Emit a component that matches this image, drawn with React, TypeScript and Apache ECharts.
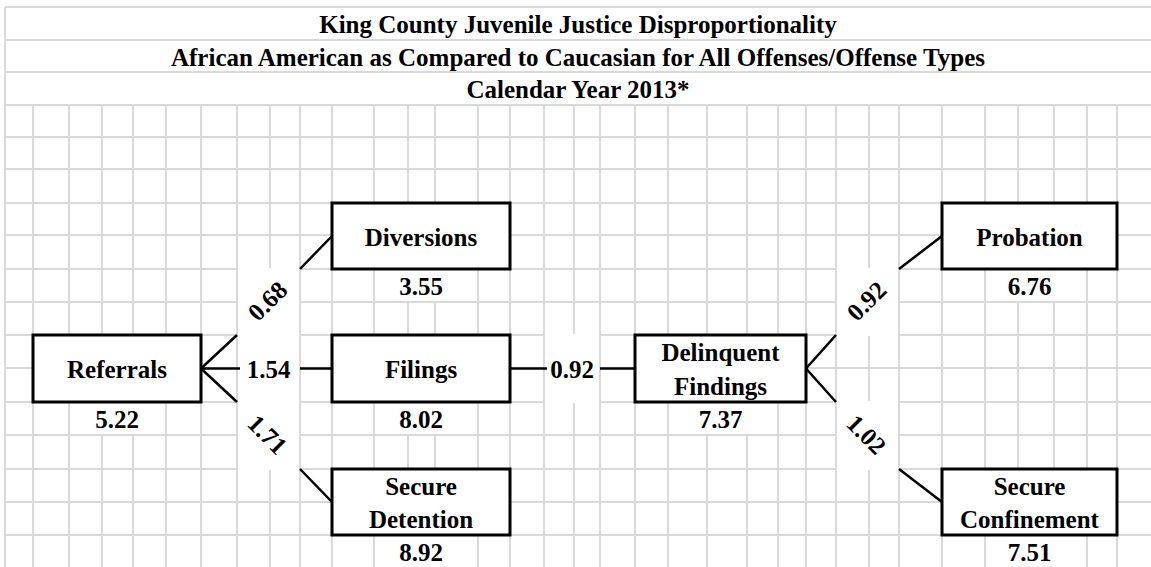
import React, { useEffect, useRef } from "react";
import * as echarts from "echarts";

// ---- data ----
const titleLines = [
  "King County Juvenile Justice Disproportionality",
  "African American as Compared to Caucasian for All Offenses/Offense Types",
  "Calendar Year 2013*",
];
const nodeNames = [
  "Referrals",
  "Diversions",
  "Filings",
  "Secure\nDetention",
  "Delinquent\nFindings",
  "Probation",
  "Secure\nConfinement",
];
const nodeValues = [5.22, 3.55, 8.02, 8.92, 7.37, 6.76, 7.51];
const edgeFrom = [0, 0, 0, 2, 4, 4];
const edgeTo = [1, 2, 3, 4, 5, 6];
const edgeRatios = [0.68, 1.54, 1.71, 0.92, 0.92, 1.02];

// ---- layout (spreadsheet cell grid) ----
const colEdges = [5, 33, 69, 102, 133, 166, 201, 237, 270, 300, 332, 374, 408, 435, 478, 510, 544, 574, 600, 635, 668, 707, 747, 778, 806, 836, 869, 899, 942, 985, 1018, 1054, 1087, 1117, 1151];
const rowEdges = [105, 137, 169, 203, 235, 269, 302, 335, 368, 402, 435, 469, 502, 535, 568];
const titleRowEdges = [7, 40, 72, 105];
// node placement in cell indices: [col0, col1, row0, row1]
const nodeCells = [
  [1, 6, 7, 9],
  [10, 15, 3, 5],
  [10, 15, 7, 9],
  [10, 15, 11, 13],
  [19, 24, 7, 9],
  [28, 33, 3, 5],
  [28, 33, 11, 13],
];

const FONT = "Liberation Serif, Tinos, Times New Roman, Noto Serif, DejaVu Serif, serif";
const FS = 25;
const GRID = "#d9d9d9";

const txt = (text: string) => ({
  text,
  fill: "#000",
  fontFamily: FONT,
  fontWeight: "bold",
  fontSize: FS,
  align: "center",
  verticalAlign: "middle",
});

function buildGraphics() {
  const els: any[] = [];
  const W = 1151;
  const H = 567;
  els.push({ type: "rect", shape: { x: 0, y: 0, width: W, height: H }, style: { fill: "#fff" }, silent: true });
  titleRowEdges.forEach((y) => {
    els.push({ type: "line", shape: { x1: colEdges[0], y1: y, x2: W, y2: y }, style: { stroke: GRID, lineWidth: 2 } });
  });
  rowEdges.forEach((y) => {
    els.push({ type: "line", shape: { x1: colEdges[0], y1: y, x2: W, y2: y }, style: { stroke: GRID, lineWidth: 2 } });
  });
  els.push({ type: "line", shape: { x1: colEdges[0], y1: titleRowEdges[0], x2: colEdges[0], y2: H }, style: { stroke: GRID, lineWidth: 2 } });
  colEdges.slice(1, colEdges.length - 1).forEach((x) => {
    els.push({ type: "line", shape: { x1: x, y1: rowEdges[0], x2: x, y2: H }, style: { stroke: GRID, lineWidth: 2 } });
  });
  titleLines.forEach((t, i) => {
    els.push({
      type: "text",
      x: (colEdges[0] + W) / 2,
      y: (titleRowEdges[i] + titleRowEdges[i + 1]) / 2 + 1,
      style: txt(t),
    });
  });

  const box = (i: number) => {
    const [c0, c1, r0, r1] = nodeCells[i];
    return { c0, c1, r0, r1, x0: colEdges[c0], x1: colEdges[c1], y0: rowEdges[r0], y1: rowEdges[r1] };
  };

  // white areas behind edge labels
  edgeFrom.forEach((f, k) => {
    const a = box(f);
    const b = box(edgeTo[k]);
    const lx0 = colEdges[a.c1 + 1];
    const lx1 = colEdges[b.c0 - 1];
    const bm = (b.y0 + b.y1) / 2;
    const am = (a.y0 + a.y1) / 2;
    let y0, y1;
    if (Math.abs(bm - am) < 1) { y0 = a.y0; y1 = a.y1; }
    else if (bm < am) { y0 = b.y1; y1 = a.y0; }
    else { y0 = a.y1; y1 = b.y0; }
    els.push({ type: "rect", shape: { x: lx0 + 1, y: y0 - 1, width: lx1 - lx0 - 2, height: y1 - y0 + 2 }, style: { fill: "#fff" } });
  });

  // value cells
  nodeValues.forEach((v, i) => {
    const b = box(i);
    const vx0 = colEdges[b.c0 + 1];
    const vx1 = colEdges[b.c1 - 1];
    const vy0 = rowEdges[b.r1];
    const vy1 = rowEdges[b.r1 + 1];
    els.push({ type: "rect", shape: { x: vx0 + 1, y: vy0 + 1, width: vx1 - vx0 - 2, height: vy1 - vy0 - 2 }, style: { fill: "#fff" } });
    els.push({
      type: "text",
      x: (b.x0 + b.x1) / 2,
      y: (vy0 + vy1) / 2 + 1,
      style: txt(v.toFixed(2)),
    });
  });

  // boxes
  nodeNames.forEach((name, i) => {
    const b = box(i);
    els.push({
      type: "rect",
      shape: { x: b.x0, y: b.y0, width: b.x1 - b.x0, height: b.y1 - b.y0 },
      style: { fill: "#fff", stroke: "#000", lineWidth: 3 },
    });
    const lines = name.split("\n");
    const rowH = (b.y1 - b.y0) / 2;
    lines.forEach((ln, j) => {
      const cy = lines.length === 1 ? (b.y0 + b.y1) / 2 : b.y0 + rowH * (j + 0.5);
      els.push({
        type: "text",
        x: (b.x0 + b.x1) / 2,
        y: cy + 1,
        style: txt(ln),
      });
    });
  });

  // connectors
  edgeFrom.forEach((f, k) => {
    const a = box(f);
    const b = box(edgeTo[k]);
    const sx = a.x1, sy = (a.y0 + a.y1) / 2;
    const tx = b.x0, ty = (b.y0 + b.y1) / 2;
    const lx0 = colEdges[a.c1 + 1];
    const lx1 = colEdges[b.c0 - 1];
    let p1y, p2y, rot;
    if (Math.abs(ty - sy) < 1) { p1y = sy; p2y = ty; rot = 0; }
    else if (ty < sy) { p1y = a.y0; p2y = b.y1; rot = Math.PI / 4; }
    else { p1y = a.y1; p2y = b.y0; rot = -Math.PI / 4; }
    const line = { stroke: "#000", lineWidth: 2.5 };
    if (rot === 0) {
      els.push({ type: "line", shape: { x1: sx, y1: sy, x2: lx0 + 3, y2: sy }, style: line });
      els.push({ type: "line", shape: { x1: lx1, y1: ty, x2: tx, y2: ty }, style: line });
    } else {
      els.push({ type: "line", shape: { x1: sx, y1: sy, x2: lx0, y2: p1y }, style: line });
      els.push({ type: "line", shape: { x1: lx1, y1: p2y, x2: tx, y2: ty }, style: line });
    }
    els.push({
      type: "text",
      x: (lx0 + lx1) / 2 - (rot === 0 ? 0 : 1),
      y: (p1y + p2y) / 2 + (rot === 0 ? 1 : -1),
      rotation: rot,
      style: txt(edgeRatios[k].toFixed(2)),
    });
  });
  return els;
}

export default function App() {
  const ref = useRef<HTMLDivElement>(null);
  useEffect(() => {
    if (!ref.current) return;
    const chart = echarts.init(ref.current, undefined, { renderer: "svg" });
    chart.setOption({
      animation: false,
      backgroundColor: "#fff",
      graphic: { elements: buildGraphics() },
    });
    return () => chart.dispose();
  }, []);
  return (
    <div
      ref={ref}
      style={{ position: "fixed", left: 0, top: 0, width: 1151, height: 567, background: "#fff" }}
    />
  );
}
